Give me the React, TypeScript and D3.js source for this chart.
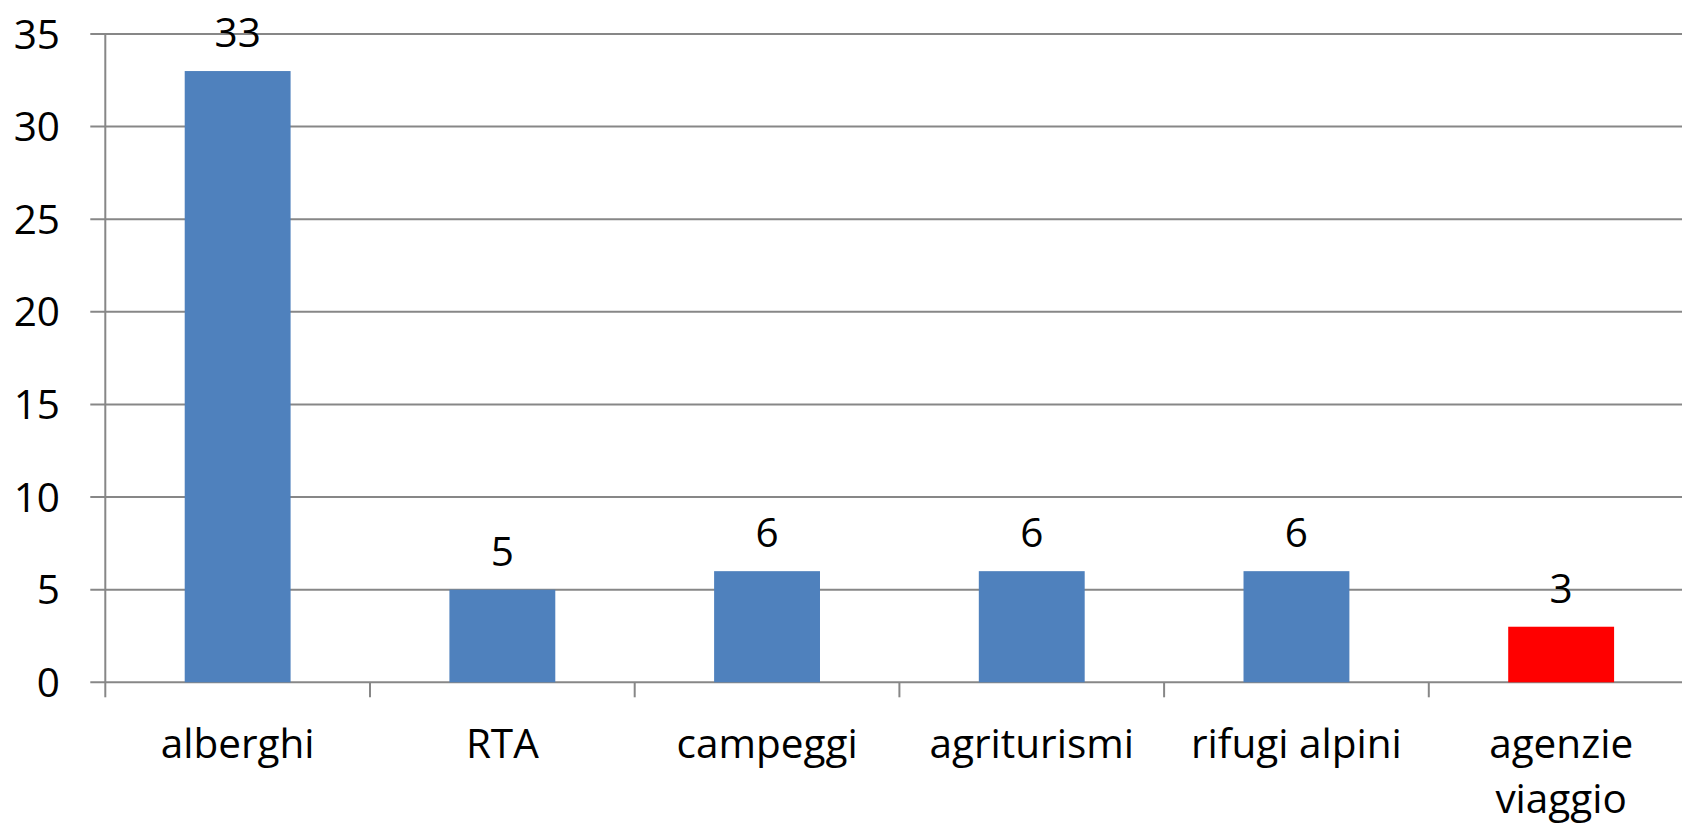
import * as d3 from "d3";
import React from "react";

// chart data
const categories = ["alberghi", "RTA", "campeggi", "agriturismi", "rifugi alpini", "agenzie viaggio"];
const values = [33, 5, 6, 6, 6, 3];
const barColors = ["#4F81BD", "#4F81BD", "#4F81BD", "#4F81BD", "#4F81BD", "#FF0000"];
const yTicks = [0, 5, 10, 15, 20, 25, 30, 35];

const W = 1682;
const H = 825;
const FONT = "'Open Sans', sans-serif";
const FS = 40.5;
const GRID = "#878787";

const App = () => {
  // plot area (right side runs past the picture edge, like the original)
  const left = 105.3;
  const right = 1693.5;
  const top = 34;
  const bottom = 682.3;

  const x = d3
    .scaleBand<string>()
    .domain(categories)
    .range([left, right])
    .paddingInner(0.6)
    .paddingOuter(0.3);
  const edge = d3.scaleLinear().domain([0, categories.length]).range([left, right]);
  const y = d3.scaleLinear().domain([0, 35]).range([bottom, top]);

  return (
    <svg
      width={W}
      height={H}
      style={{ position: "absolute", left: 0, top: 0, background: "#fff" }}
      fontFamily={FONT}
      fontSize={FS}
    >
      {/* gridlines + y ticks */}
      {yTicks.map((t) => (
        <g key={t}>
          <line x1={left - 15} x2={W + 20} y1={y(t)} y2={y(t)} stroke={GRID} strokeWidth={2} />
          <text x={60} y={y(t)} dy="0.36em" textAnchor="end" fill="#000">
            {t}
          </text>
        </g>
      ))}

      {/* y axis */}
      <line x1={left} x2={left} y1={top} y2={bottom} stroke={GRID} strokeWidth={2} />

      {/* x category boundary ticks */}
      {d3.range(categories.length + 1).map((i) => (
        <line key={i} x1={edge(i)} x2={edge(i)} y1={bottom} y2={bottom + 15} stroke={GRID} strokeWidth={2} />
      ))}

      {/* bars */}
      {categories.map((c, i) => (
        <rect
          key={c}
          x={x(c)}
          y={y(values[i])}
          width={x.bandwidth()}
          height={y(0) - y(values[i])}
          fill={barColors[i]}
        />
      ))}

      {/* value labels */}
      {categories.map((c, i) => (
        <text key={c} x={(x(c) ?? 0) + x.bandwidth() / 2} y={y(values[i]) - 24} textAnchor="middle" fill="#000">
          {values[i]}
        </text>
      ))}

      {/* category labels, the long one wraps onto two lines */}
      {categories.map((c) => {
        const cx = (x(c) ?? 0) + x.bandwidth() / 2;
        const lines = c === "agenzie viaggio" ? c.split(" ") : [c];
        return (
          <text key={c} x={cx} y={758} textAnchor="middle" fill="#000">
            {lines.map((l, j) => (
              <tspan key={j} x={cx} dy={j === 0 ? 0 : 55}>
                {l}
              </tspan>
            ))}
          </text>
        );
      })}
    </svg>
  );
};

export default App;
